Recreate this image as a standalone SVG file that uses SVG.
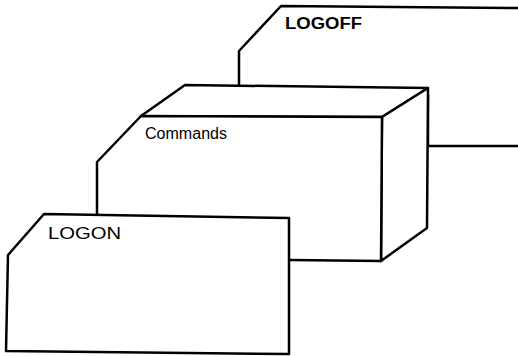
<svg xmlns="http://www.w3.org/2000/svg" width="518" height="356" viewBox="0 0 518 356">
<style>
.fc{fill:#fff;stroke:#000;stroke-width:2.5;stroke-linejoin:round}
.t{font-family:"Liberation Sans",Arial,sans-serif;font-size:16px;fill:#000}
</style>
<rect width="518" height="356" fill="#fff"/>
<g id="logoff">
<path class="fc" d="M239,95 L239,51 L281,6 L520,8 L520,146 L428,146 L428,95 Z"/>
<text class="t" x="285" y="29" font-weight="bold" textLength="77" lengthAdjust="spacingAndGlyphs">LOGOFF</text>
</g>
<g id="commands">
<path class="fc" d="M141,116 L185,85 L428,88 L382,117 Z"/>
<path class="fc" d="M382,117 L428,88 L427,228 L381,261 Z"/>
<path class="fc" d="M97,235 L97,162 L141,116 L382,117 L381,261 L290,260 L270,260 L270,235 Z"/>
<text class="t" x="145" y="139" textLength="82" lengthAdjust="spacingAndGlyphs">Commands</text>
</g>
<g id="logon">
<path class="fc" d="M8,255 L44,214 L289,218 L289,354 L6,351 Z"/>
<text class="t" x="48" y="239" textLength="73" lengthAdjust="spacingAndGlyphs">LOGON</text>
</g>
<g id="connectors"></g>
</svg>
